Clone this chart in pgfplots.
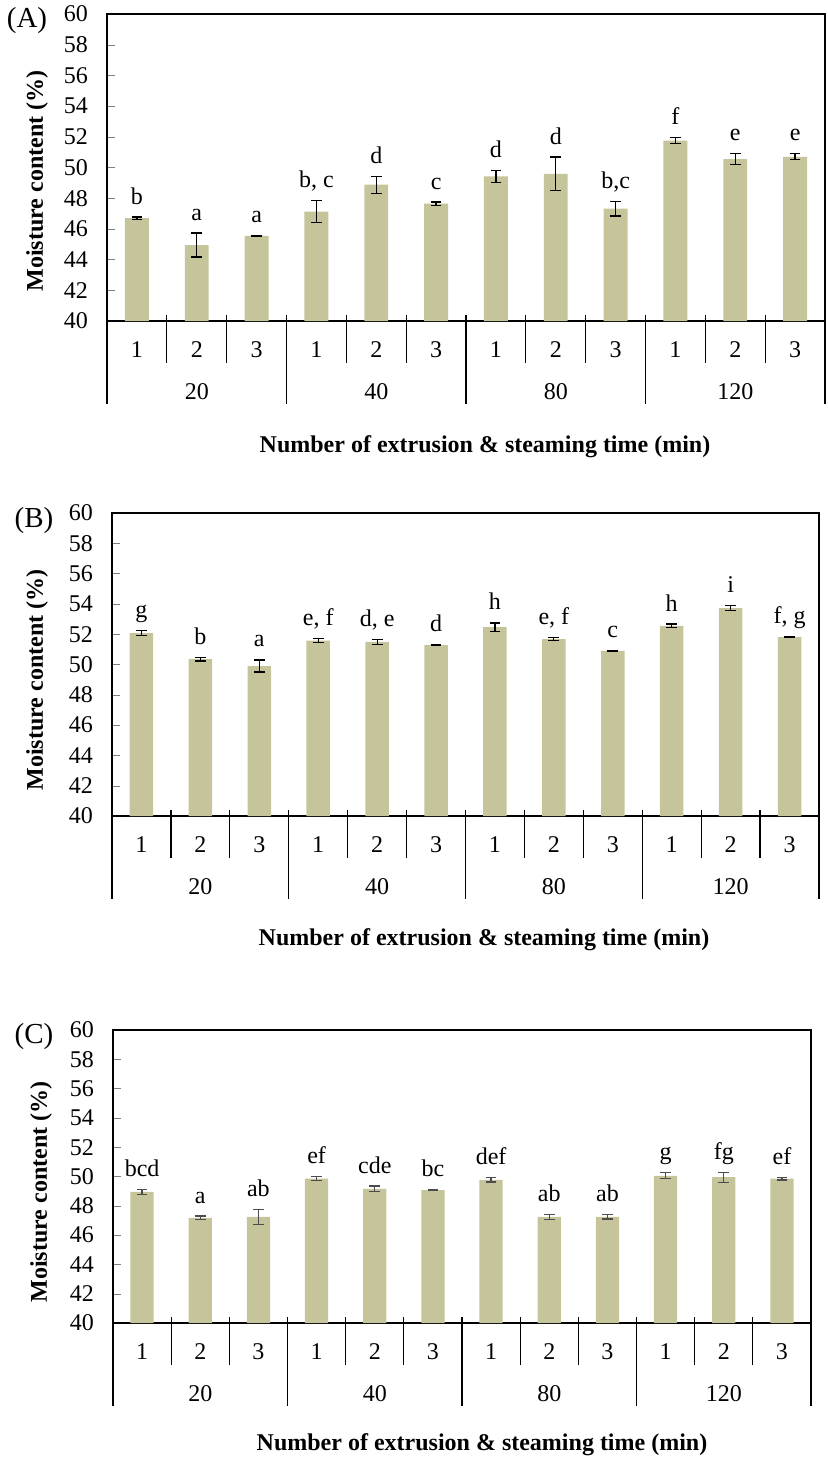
\documentclass[border=0pt]{standalone}
\usepackage{fontspec}
\setmainfont{Liberation Serif}
\usepackage{pgfplots}
\usepackage{pgfplotstable}
\pgfplotsset{compat=1.18}

\definecolor{barcol}{RGB}{197,196,154}
\newcommand{\lbl}{\fontsize{12}{14}\selectfont}

% panel A
\pgfplotstableread{
x y e lab
1 46.70 0.07 b
2 44.95 0.78 a
3 45.54 0.05 a
4 47.12 0.72 {b, c}
5 48.88 0.56 d
6 47.65 0.10 c
7 49.42 0.38 d
8 49.58 1.10 d
9 47.32 0.48 {b,c}
10 51.75 0.18 f
11 50.55 0.34 e
12 50.70 0.20 e
}\dataA

% panel B
\pgfplotstableread{
x y e lab
1 52.07 0.15 g
2 50.35 0.12 b
3 49.90 0.40 a
4 51.58 0.12 {e, f}
5 51.50 0.17 {d, e}
6 51.28 0.05 d
7 52.47 0.27 h
8 51.68 0.12 {e, f}
9 50.90 0.03 c
10 52.55 0.12 h
11 53.72 0.15 i
12 51.83 0.03 {f, g}
}\dataB

% panel C
\pgfplotstableread{
x y e lab
1 48.95 0.17 bcd
2 47.18 0.12 a
3 47.25 0.50 ab
4 49.86 0.15 ef
5 49.16 0.19 cde
6 49.07 0.03 bc
7 49.77 0.15 def
8 47.25 0.17 ab
9 47.25 0.15 ab
10 50.05 0.20 g
11 49.95 0.35 fg
12 49.86 0.10 ef
}\dataC

\pgfplotsset{
  panel/.style={
    scale only axis, anchor=south west,
    xmin=0.5, xmax=12.5, ymin=40, ymax=60,
    ytick={40,42,...,60}, ytick pos=left,
    tick align=inside, major tick length=4pt,
    xtick={1,...,12}, xticklabels={1,2,3,1,2,3,1,2,3,1,2,3},
    x tick style={draw=none},
    xticklabel style={anchor=base, yshift=-18pt},
    yticklabel style={xshift=-6pt},
    tick label style={font=\lbl},
    /pgf/number format/assume math mode=true,
    axis line style={line width=0.8pt},
    clip mode=individual,
  },
  bars/.style={
    ybar, bar width=0.4, fill=barcol, draw=none,
    error bars/.cd, y dir=both, y explicit,
    error bar style={line width=0.6pt, #1},
    error mark options={rotate=90, line width=0.6pt, mark size=2.7pt, #1},
  },
  lets/.style={
    mark=none, draw=none, nodes near coords, point meta=explicit symbolic,
    every node near coord/.append style={anchor=base, yshift=6.5pt, inner sep=0pt, font=\lbl},
  },
}

\newcommand{\groups}{%
  \pgfplotsinvokeforeach{1.5,2.5,4.5,5.5,7.5,8.5,10.5,11.5}{%
    \draw[line width=0.6pt] ([yshift=3pt]axis cs:##1,40) -- ([yshift=-21pt]axis cs:##1,40);}
  \pgfplotsinvokeforeach{0.5,3.5,6.5,9.5,12.5}{%
    \draw[line width=0.6pt] ([yshift=3pt]axis cs:##1,40) -- ([yshift=-41.5pt]axis cs:##1,40);}
  \node[font=\lbl, yshift=-35.5pt] at (axis cs:2,40) {20};
  \node[font=\lbl, yshift=-35.5pt] at (axis cs:5,40) {40};
  \node[font=\lbl, yshift=-35.5pt] at (axis cs:8,40) {80};
  \node[font=\lbl, yshift=-35.5pt] at (axis cs:11,40) {120};
}

\begin{document}
\begin{tikzpicture}
\path[use as bounding box] (0,0) rectangle (413.5pt,-730.5pt);

% (A)
\begin{axis}[panel, at={(53.5pt,-160.5pt)}, width=359pt, height=153.5pt]
  \addplot[bars=black] table[x=x, y=y, y error=e] {\dataA};
  \addplot[lets] table[x=x, y expr=\thisrow{y}+\thisrow{e}, meta=lab] {\dataA};
  \groups
\end{axis}
\node[font=\fontsize{14.5}{16}\selectfont] at (13.5pt,-10.5pt) {(A)};
\node[rotate=90, font=\lbl\bfseries] at (18.5pt,-90.5pt) {Moisture content (\%)};
\node[font=\lbl\bfseries] at (242.5pt,-223.5pt) {Number of extrusion \& steaming time (min)};

% (B)
\begin{axis}[panel, at={(56pt,-408pt)}, width=353.5pt, height=151.5pt]
  \addplot[bars=black] table[x=x, y=y, y error=e] {\dataB};
  \addplot[lets] table[x=x, y expr=\thisrow{y}+\thisrow{e}, meta=lab] {\dataB};
  \groups
\end{axis}
\node[font=\fontsize{14.5}{16}\selectfont] at (17pt,-260.5pt) {(B)};
\node[rotate=90, font=\lbl\bfseries] at (18.5pt,-340pt) {Moisture content (\%)};
\node[font=\lbl\bfseries] at (242pt,-470pt) {Number of extrusion \& steaming time (min)};

% (C)
\begin{axis}[panel, at={(56.5pt,-661.5pt)}, width=349pt, height=146.5pt]
  \addplot[bars=black!70] table[x=x, y=y, y error=e] {\dataC};
  \addplot[lets] table[x=x, y expr=\thisrow{y}+\thisrow{e}, meta=lab] {\dataC};
  \groups
\end{axis}
\node[font=\fontsize{14.5}{16}\selectfont] at (17pt,-518.5pt) {(C)};
\node[rotate=90, font=\lbl\bfseries] at (20.5pt,-596pt) {Moisture content (\%)};
\node[font=\lbl\bfseries] at (241pt,-722.5pt) {Number of extrusion \& steaming time (min)};
\end{tikzpicture}
\end{document}
